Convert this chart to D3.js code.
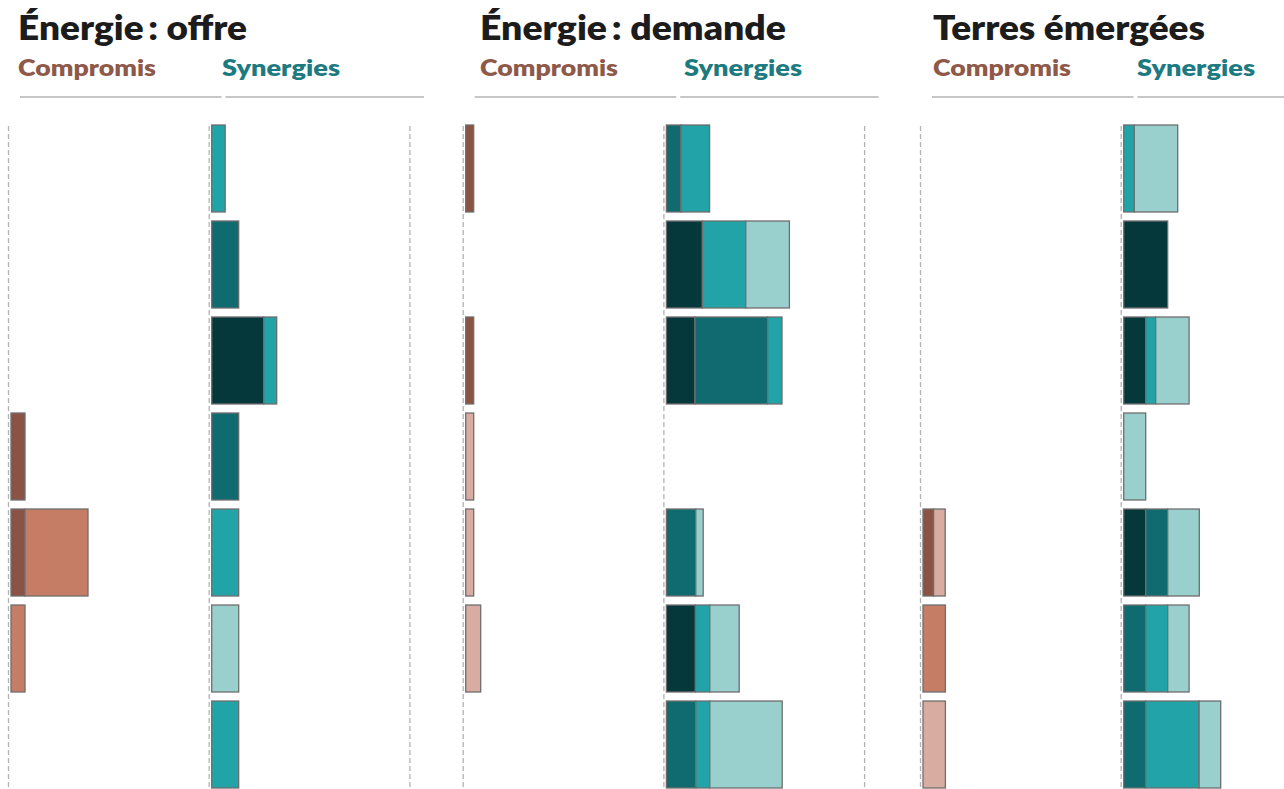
<!DOCTYPE html>
<html>
<head>
<meta charset="utf-8">
<script src="https://cdn.jsdelivr.net/npm/d3@7"></script>
<style>
  body { margin: 0; background: #fff; }
  svg { display: block; font-family: Lato, "Open Sans", sans-serif; }
</style>
</head>
<body>
<div id="chart"></div>
<script>
// --- data (share of the column, 0-100) ---
const panelTitles = ["Énergie\u2009: offre", "Énergie\u2009: demande", "Terres émergées"];
const sideLabels = ["Compromis", "Synergies"];
const rows = ["1", "2", "3", "4", "5", "6", "7"];
const compromisLevels = ["élevée", "moyenne", "faible"];
const synergiesLevels = ["très élevée", "élevée", "moyenne", "faible"];

// one entry per row, one value per level
const offreCompromis = [[0, 0, 0], [0, 0, 0], [0, 0, 0], [7, 0, 0], [7, 31.5, 0], [0, 7, 0], [0, 0, 0]];
const offreSynergies = [[0, 0, 6.75, 0], [0, 13.5, 0, 0], [26, 0, 6.5, 0], [0, 13.5, 0, 0], [0, 0, 13.5, 0], [0, 0, 0, 13.5], [0, 0, 13.5, 0]];
const demandeCompromis = [[4, 0, 0], [0, 0, 0], [4, 0, 0], [0, 0, 4], [0, 0, 4], [0, 0, 7.5], [0, 0, 0]];
const demandeSynergies = [[0, 7.3, 14.3, 0], [18, 0, 21.7, 21.8], [14.3, 36.3, 7.2, 0], [0, 0, 0, 0], [0, 14.7, 0, 3.7], [14.5, 0, 7.2, 14.7], [0, 14.7, 7, 36.2]];
const terresCompromis = [[0, 0, 0], [0, 0, 0], [0, 0, 0], [0, 0, 0], [5.3, 0, 5.8], [0, 11.2, 0], [0, 0, 11.2]];
const terresSynergies = [[0, 0, 5.3, 21.7], [22, 0, 0, 0], [11, 0, 5, 16.7], [0, 0, 0, 11], [11, 11, 0, 15.8], [0, 11, 11, 10.7], [0, 11, 26.7, 10.8]];

const compromisColors = ["#8b5344", "#c57e65", "#d8aca1"];
const synergiesColors = ["#05383b", "#0f6b70", "#21a3a8", "#99cfcd"];

const panels = [
  { title: panelTitles[0], comp: offreCompromis, syn: offreSynergies },
  { title: panelTitles[1], comp: demandeCompromis, syn: demandeSynergies },
  { title: panelTitles[2], comp: terresCompromis, syn: terresSynergies }
];

// --- layout ---
const width = 1284, height = 789;
const panelLeft = [11, 465.7, 923];
const headerLeft = [18, 480, 933];
const titleWidths = [229, 306, 272];
const colWidth = 200.7;

const x = d3.scaleLinear().domain([0, 100]).range([0, 200]);
const y = d3.scaleBand().domain(rows).range([125, 788]).paddingInner(0.094).paddingOuter(0);

const svg = d3.select("#chart").append("svg").attr("width", width).attr("height", height);

function stackRows(values, levels) {
  const table = values.map((v, i) => {
    const o = { row: rows[i] };
    levels.forEach((l, j) => o[l] = v[j]);
    return o;
  });
  return d3.stack().keys(levels)(table);
}

panels.forEach((p, i) => {
  const g = svg.append("g").attr("transform", `translate(${panelLeft[i]},0)`);
  const hx = headerLeft[i] - panelLeft[i];

  // dashed guides
  g.selectAll(".guide")
    .data([0, colWidth, colWidth * 2])
    .join("line")
    .attr("x1", d => d - 2.5).attr("x2", d => d - 2.5)
    .attr("y1", 126).attr("y2", height)
    .attr("stroke", "#b3b3b3")
    .attr("stroke-width", 1.3)
    .attr("stroke-dasharray", "5,3");

  // header
  g.append("text")
    .attr("x", hx).attr("y", 40)
    .attr("font-size", 33).attr("font-weight", 800).attr("fill", "#1c1c1c")
    .attr("textLength", titleWidths[i]).attr("lengthAdjust", "spacingAndGlyphs")
    .text(p.title);
  g.append("text")
    .attr("x", hx).attr("y", 76)
    .attr("font-size", 23).attr("font-weight", 800).attr("fill", "#8f5949")
    .attr("textLength", 138).attr("lengthAdjust", "spacingAndGlyphs")
    .text(sideLabels[0]);
  g.append("text")
    .attr("x", hx + 204).attr("y", 76)
    .attr("font-size", 23).attr("font-weight", 800).attr("fill", "#1d7a80")
    .attr("textLength", 118).attr("lengthAdjust", "spacingAndGlyphs")
    .text(sideLabels[1]);
  g.selectAll(".rule")
    .data([[9, 210.5], [214.5, 413]])
    .join("line")
    .attr("x1", d => d[0]).attr("x2", d => d[1])
    .attr("y1", 97).attr("y2", 97)
    .attr("stroke", "#b5b5b5").attr("stroke-width", 1.5);

  // stacked bars
  [[p.comp, compromisLevels, compromisColors, 0], [p.syn, synergiesLevels, synergiesColors, colWidth]]
    .forEach(([values, levels, colors, offset]) => {
      const series = stackRows(values, levels);
      g.append("g")
        .attr("transform", `translate(${offset},0)`)
        .selectAll("g")
        .data(series)
        .join("g")
        .attr("fill", (d, k) => colors[k])
        .selectAll("rect")
        .data(d => d.filter(s => s[1] - s[0] > 0))
        .join("rect")
        .attr("x", d => x(d[0]))
        .attr("y", d => y(d.data.row))
        .attr("width", d => x(d[1]) - x(d[0]))
        .attr("height", y.bandwidth())
        .attr("stroke", "#6e6e6e")
        .attr("stroke-width", 1.3);
    });
});
</script>
</body>
</html>
